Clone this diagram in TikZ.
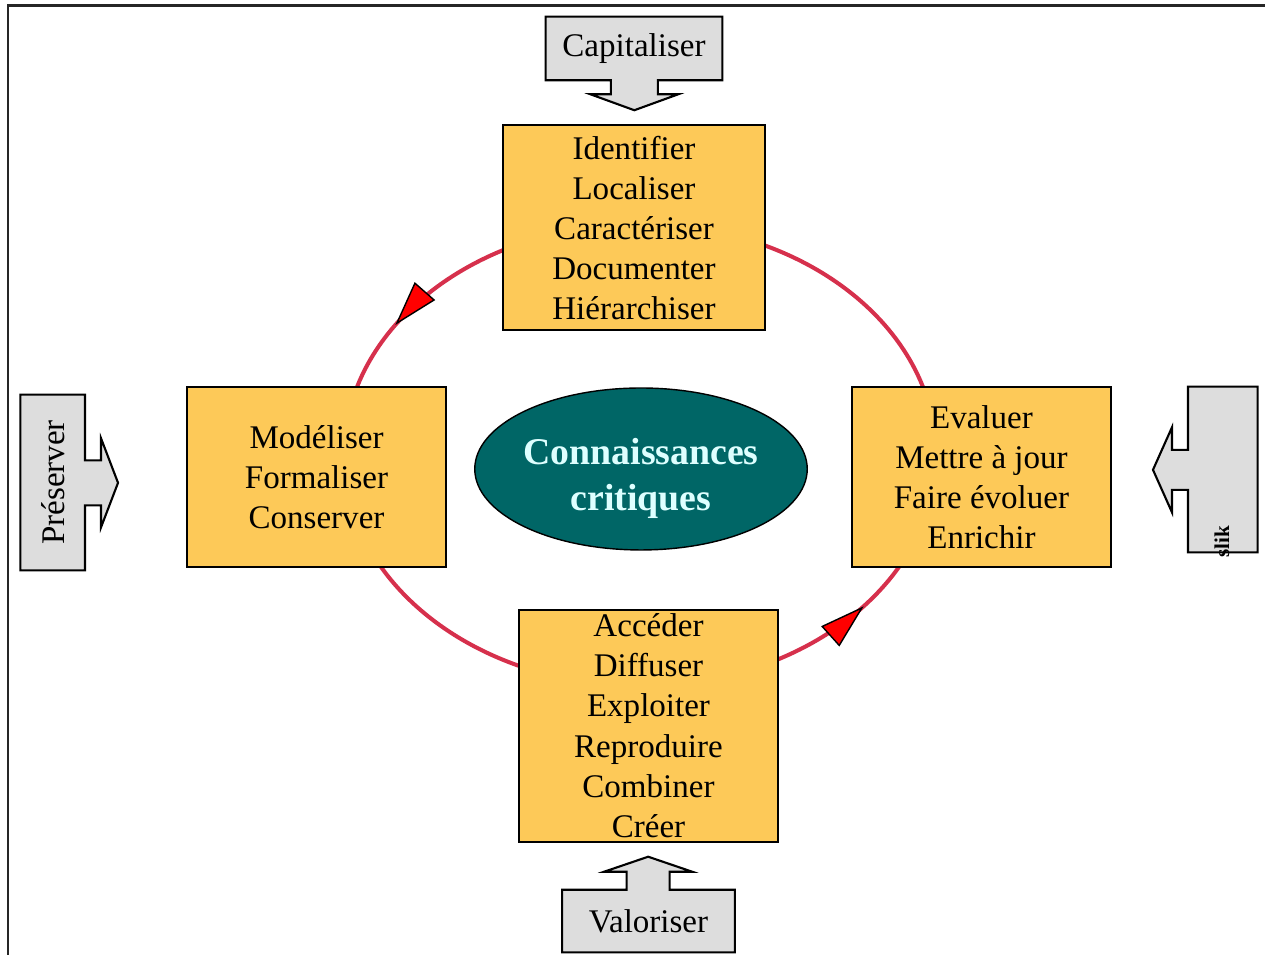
\documentclass[tikz,border=0pt]{standalone}
\usepackage{fontspec}
\setmainfont{Liberation Serif}
\usepackage{xcolor}
\newlength{\vgap}
\newlength{\hgap}
\newlength{\callgap}
\usepackage{tikz}
\usetikzlibrary{positioning}
\usetikzlibrary{arrows.meta}
\usetikzlibrary{decorations.markings}
\usetikzlibrary{shapes.geometric}
\usetikzlibrary{backgrounds}
\definecolor{boxorange}{RGB}{253,201,88}
\definecolor{callgray}{RGB}{221,221,221}
\definecolor{coreteal}{RGB}{0,102,102}
\definecolor{corelight}{RGB}{222,255,255}
\definecolor{ringred}{RGB}{214,48,76}
\tikzstyle{task}=[draw, rectangle, fill=boxorange, line width=1.2pt, inner sep=0pt, align=center, font=\fontsize{18.8}{22.8}\selectfont]
\tikzstyle{calltext}=[rectangle, inner sep=0pt, font=\fontsize{18.8}{22.8}\selectfont]
\tikzstyle{callout}=[draw, fill=callgray, line width=1.2pt, line join=miter]
\tikzstyle{core}=[draw, ellipse, fill=coreteal, text=corelight, inner sep=0pt, align=center, line width=0.8pt, font=\bfseries\fontsize{21.5}{26}\selectfont]
\tikzstyle{ring}=[draw=ringred, line width=2.3pt]
\tikzstyle{frame}=[draw=black!85, line width=1.7pt]
\tikzset{ringtip/.tip={Triangle[length=0.9cm, width=0.54cm, color=black, fill=red, line width=0.8pt]}}

\begin{document}
\begin{tikzpicture}[x=0.02cm, y=0.02cm]

				\setlength{\vgap}{1.12cm}
				\setlength{\hgap}{0.54cm}
				\setlength{\callgap}{0.94cm}

				\useasboundingbox (0,0) rectangle (1265,955);
				\draw [frame] (8,-20) -- (8,949) -- (1290,949);

				\node (core) [core, minimum width=6.6cm, minimum height=3.24cm] at (641,486) {\rule{0pt}{26pt}Connaissances\\critiques};
				%
				\node (ident) [task, minimum width=5.24cm, minimum height=4.1cm, above=\vgap of core, xshift=-0.14cm] {Identifier\\Localiser\\Caractériser\\Documenter\\Hiérarchiser};
				\node (model) [task, minimum width=5.18cm, minimum height=3.6cm, left=\hgap of core, yshift=-0.16cm] {Modéliser\\Formaliser\\Conserver};
				\node (eval) [task, minimum width=5.18cm, minimum height=3.6cm, right=0.86cm of core, yshift=-0.16cm] {Evaluer\\Mettre à jour\\Faire évoluer\\Enrichir};
				\node (acces) [task, minimum width=5.18cm, minimum height=4.64cm, below=1.16cm of core, xshift=0.15cm] {Accéder\\Diffuser\\Exploiter\\Reproduire\\Combiner\\Créer};

				\node (cap) [calltext, minimum width=3.52cm, minimum height=1.26cm, above=\callgap of ident, yshift=-0.06cm] {Capitaliser};
				\node (val) [calltext, minimum width=3.44cm, minimum height=1.24cm, below=\callgap of acces] {Valoriser};
				\node (pres) [calltext, minimum width=1.28cm, minimum height=3.5cm, left=2.02cm of model, yshift=-0.11cm] {\rotatebox{90}{Préserver}};
				\node (upd) [calltext, minimum width=1.38cm, minimum height=3.3cm, right=1.52cm of eval, yshift=0.15cm] {};
				\node (updtext) [inner sep=0pt, rotate=90, font=\bfseries\fontsize{12}{12}\selectfont] at (1222,413) {slik};

				\begin{scope}[on background layer]
				\coordinate (hub) at (640,500);
				\draw [ring, postaction={decorate}, decoration={markings, mark=at position 0.414 with {\arrow{ringtip}}, mark=at position 0.896 with {\arrow{ringtip}}}] (hub) ellipse [x radius=296, y radius=231];
				%
				\draw [callout] (cap.north west) -| (cap.south east) -- ++(-64.5,0) -- ++(0,-14) -- ++(20.5,0) -- ++(-44,-16) -- ++(-44,16) -- ++(20.5,0) -- ++(0,14) -- (cap.south west) -- cycle;
				\draw [callout] (val.north east) |- (val.south west) -- (val.north west) -- ++(64.5,0) -- ++(0,18) -- ++(-22.5,0) -- ++(44,15) -- ++(44,-15) -- ++(-22.5,0) -- ++(0,-18) -- cycle;
				\draw [callout] (pres.north east) -| (pres.south west) -- (pres.south east) -- ++(0,65) -- ++(16,0) -- ++(0,-22) -- ++(17,44.5) -- ++(-17,44.5) -- ++(0,-22) -- ++(-16,0) -- cycle;
				\draw [callout] (upd.north west) -| (upd.south east) -- (upd.south west) -- ++(0,62.5) -- ++(-16,0) -- ++(0,-22.5) -- ++(-19,42.5) -- ++(19,42.5) -- ++(0,-22.5) -- ++(16,0) -- cycle;
				\end{scope}
\end{tikzpicture}
\end{document}
